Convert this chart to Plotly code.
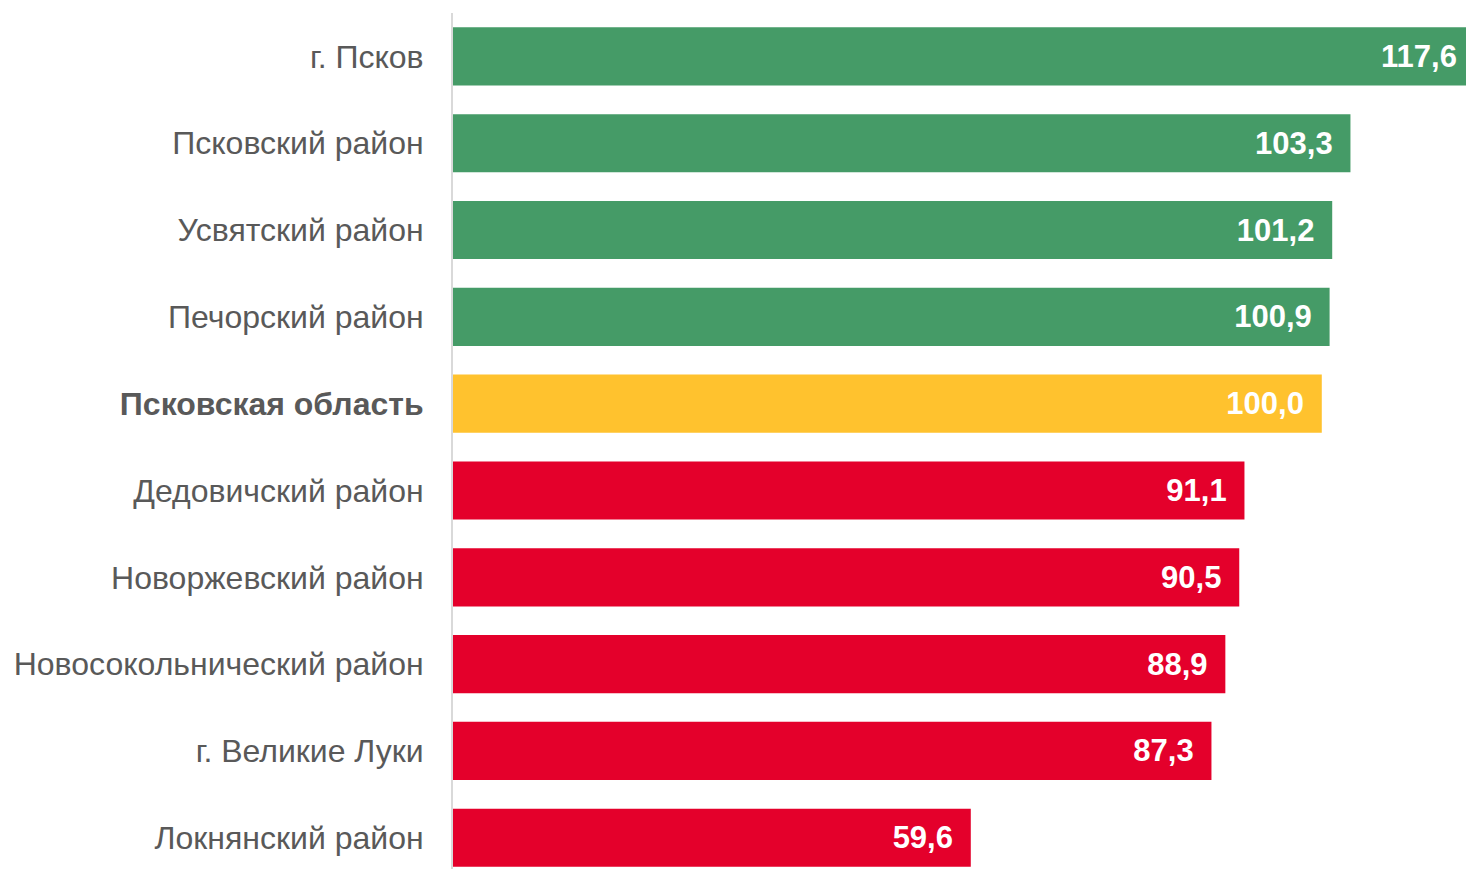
import plotly.graph_objects as go

categories = [
    "г. Псков",
    "Псковский район",
    "Усвятский район",
    "Печорский район",
    "Псковская область",
    "Дедовичский район",
    "Новоржевский район",
    "Новосокольнический район",
    "г. Великие Луки",
    "Локнянский район",
]
values = [117.6, 103.3, 101.2, 100.9, 100.0, 91.1, 90.5, 88.9, 87.3, 59.6]
groups = ["above", "above", "above", "above", "region",
          "below", "below", "below", "below", "below"]

color_map = {"above": "#459B67", "region": "#FFC22E", "below": "#E4002B"}
colors = [color_map[g] for g in groups]

positions = list(range(len(categories)))
ticktext = [f"<b>{c}</b>" if g == "region" else c for c, g in zip(categories, groups)]
labels = [f"{v:.1f}".replace(".", ",") + "\u00a0\u2009" for v in values]

W, H = 1466, 869
left = 453
top = 13

fig = go.Figure(
    go.Bar(
        x=values,
        y=positions,
        orientation="h",
        marker=dict(color=colors, line=dict(width=0)),
        text=labels,
        textposition="inside",
        insidetextanchor="end",
        textangle=0,
        textfont=dict(family="Liberation Sans, Arial, sans-serif", size=31,
                      color="#FFFFFF", weight="bold"),
        constraintext="none",
        cliponaxis=True,
        hoverinfo="skip",
    )
)

fig.update_layout(
    width=W,
    height=H,
    margin=dict(l=left, r=0, t=top, b=0, pad=0),
    paper_bgcolor="white",
    plot_bgcolor="white",
    bargap=0.33,
    showlegend=False,
    font=dict(family="Liberation Sans, Arial, sans-serif", color="#595959"),
)

fig.update_xaxes(
    range=[0, 116.6],
    showgrid=False,
    zeroline=False,
    showticklabels=False,
    showline=False,
    ticks="",
)

fig.update_yaxes(
    tickmode="array",
    tickvals=positions,
    ticktext=ticktext,
    range=[9.36, -0.5],
    showgrid=False,
    zeroline=False,
    showline=True,
    linecolor="#D9D9D9",
    linewidth=2,
    ticks="",
    ticklabelstandoff=21,
    tickfont=dict(size=32, color="#595959", family="Liberation Sans, Arial, sans-serif"),
)

fig.write_html(
    "out.html",
    config={"displayModeBar": False, "staticPlot": True},
    post_script="document.body.style.margin='0';document.body.style.overflow='hidden';",
)
